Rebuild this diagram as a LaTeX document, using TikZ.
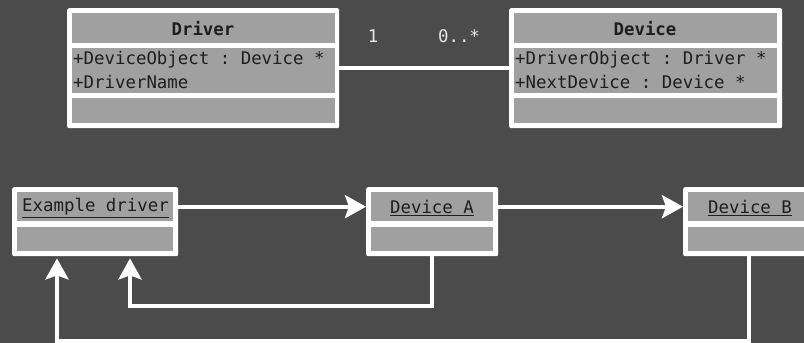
\documentclass[tikz,border=0pt]{standalone}
\usepackage{fontspec}
\setmonofont{DejaVu Sans Mono}
\usetikzlibrary{arrows.meta}
\definecolor{bg}{HTML}{4B4B4B}
\definecolor{compgray}{HTML}{A0A0A0}
\definecolor{textdark}{HTML}{1E1E1E}
\definecolor{lbl}{HTML}{E6E6E6}
\newcommand{\monofnt}{\fontsize{17.4}{20}\selectfont\ttfamily}
\tikzset{
  outerbox/.style={fill=white, draw=none, rounded corners=2pt, inner sep=0pt, anchor=north west},
  comp/.style={fill=compgray, draw=none, inner sep=0pt, anchor=north west},
  txt/.style={font=\monofnt, text=textdark, inner sep=0pt},
  mult/.style={font=\monofnt, text=lbl, inner sep=0pt},
  conn/.style={white, line width=4pt},
  arr/.style={conn, -{Stealth[length=21pt,width=23pt,inset=4pt]}, shorten >=2pt},
}
\begin{document}
\begin{tikzpicture}[x=1pt,y=-1pt]
\fill[bg] (0,0) rectangle (804,343);
\useasboundingbox (0,0) rectangle (804,343);
\clip (0,0) rectangle (804,343);
% Driver class
\node[outerbox, minimum width=272, minimum height=120] (driver) at (67,8) {};
\node[comp, minimum width=263, minimum height=30] (drvh) at (72,13) {};
\node[comp, minimum width=263, minimum height=45] (drva) at (72,48) {};
\node[comp, minimum width=263, minimum height=25] (drvo) at (72,98) {};
\node[txt, font=\monofnt\bfseries] (drvname) at (203,29) {Driver};
\node[txt, anchor=west] (drv1) at (73,59.5) {+DeviceObject : Device *};
\node[txt, anchor=west] (drv2) at (73,82.5) {+DriverName};
% Device class
\node[outerbox, minimum width=273, minimum height=120] (device) at (509,8) {};
\node[comp, minimum width=263, minimum height=30] (devh) at (514,13) {};
\node[comp, minimum width=263, minimum height=45] (deva) at (514,48) {};
\node[comp, minimum width=263, minimum height=25] (devo) at (514,98) {};
\node[txt, font=\monofnt\bfseries] (devname) at (645,29) {Device};
\node[txt, anchor=west] (dev1) at (515,59.5) {+DriverObject : Driver *};
\node[txt, anchor=west] (dev2) at (515,82.5) {+NextDevice : Device *};
% association
\draw[conn] (driver.east) -- (device.west);
\node[mult] (m1) at (373,36) {1};
\node[mult] (m2) at (459,36) {0..*};
% objects
\node[outerbox, minimum width=166, minimum height=69] (exdrv) at (12,187) {};
\node[comp, minimum width=156, minimum height=29] (exh) at (17,192) {};
\node[comp, minimum width=156, minimum height=24] (exo) at (17,227) {};
\node[txt, anchor=west] (exname) at (22,208) {\underline{Example driver}};
\node[outerbox, minimum width=132, minimum height=69] (devA) at (366,187) {};
\node[comp, minimum width=122, minimum height=29] (devAh) at (371,192) {};
\node[comp, minimum width=122, minimum height=24] (devAo) at (371,227) {};
\node[txt] (devAname) at (432,208) {\underline{Device A}};
\node[outerbox, minimum width=132, minimum height=69] (devB) at (683,187) {};
\node[comp, minimum width=122, minimum height=29] (devBh) at (688,192) {};
\node[comp, minimum width=122, minimum height=24] (devBo) at (688,227) {};
\node[txt] (devBname) at (750,208) {\underline{Device B}};
% links
\draw[arr, shorten >=0pt] (exdrv.east |- exh.center) -- (devA.west |- exh.center);
\draw[arr, shorten >=0pt] (devA.east |- devAh.center) -- (devB.west |- devAh.center);
\coordinate (r1) at (130,306);
\coordinate (r2) at (57,341);
\draw[arr] (devA.south) |- (r1) -- (r1 |- exdrv.south);
\draw[arr] (devB.south) |- (r2) -- (r2 |- exdrv.south);
\end{tikzpicture}
\end{document}
